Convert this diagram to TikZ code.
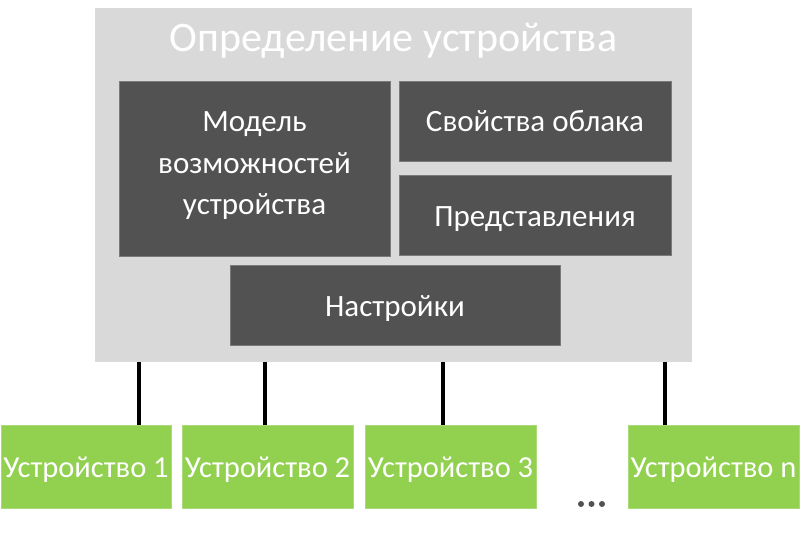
\documentclass[tikz,border=0pt]{standalone}
\usepackage{fontspec}
\setmainfont{Carlito}
\definecolor{bgGray}{HTML}{D9D9D9}
\definecolor{darkBox}{HTML}{525252}
\definecolor{darkEdge}{HTML}{7A7A7A}
\definecolor{greenBox}{HTML}{92D050}
\definecolor{greenEdge}{HTML}{A9DC78}
\begin{document}
\begin{tikzpicture}[x=1pt,y=-1pt,
  darkbox/.style={fill=darkBox,draw=darkEdge,line width=0.8pt},
  devbox/.style={fill=greenBox,draw=greenEdge,line width=0.8pt},
  darktext/.style={text=white,font=\fontsize{31}{41.5}\selectfont,inner sep=0pt},
  devtext/.style={text=white,font=\fontsize{30.5}{36}\selectfont,inner sep=0pt,anchor=base},
  link/.style={line width=4pt,black},
  dot/.style={circle,fill=darkBox,inner sep=0pt,minimum size=6pt}]
\useasboundingbox (0,0) rectangle (800,534);
\fill[white] (0,0) rectangle (800,534);
% outer
\fill[bgGray] (95,8) rectangle (692,362);
\node[text=white,font=\fontsize{42}{48}\selectfont,anchor=base,inner sep=0pt] (title) at (393.5,52) {Определение устройства};
% inner boxes
\draw[darkbox] (119,81) rectangle (390,256);
\draw[darkbox] (399,81) rectangle (671,161);
\draw[darkbox] (399,175) rectangle (671,255);
\draw[darkbox] (230,265) rectangle (560,345);
\node[darktext,align=center,anchor=base] (model) at (254.5,215) {Модель\\возможностей\\устройства};
\node[darktext,anchor=base] (cloud) at (535,132) {Свойства облака};
\node[darktext,anchor=base] (views) at (535,227) {Представления};
\node[darktext,anchor=base] (settings) at (395,317) {Настройки};
% device boxes
\draw[devbox] (1,425) rectangle (171,508);
\node[devtext] (d1) at (86,477) {Устройство 1};
\draw[devbox] (182,425) rectangle (353,508);
\node[devtext] (d2) at (267.5,477) {Устройство 2};
\draw[devbox] (365,425) rectangle (536,508);
\node[devtext] (d3) at (450.5,477) {Устройство 3};
\draw[devbox] (628,425) rectangle (799,508);
\node[devtext] (dn) at (713.5,477) {Устройство n};
% connectors
\coordinate (t1) at (139,362); \coordinate (b1) at (139,425);
\coordinate (t2) at (265,362); \coordinate (b2) at (265,425);
\coordinate (t3) at (443,362); \coordinate (b3) at (443,425);
\coordinate (t4) at (665,362); \coordinate (b4) at (665,425);
\draw[link] (t1) -- (b1);
\draw[link] (t2) -- (b2);
\draw[link] (t3) -- (b3);
\draw[link] (t4) -- (b4);
% dots
\node[dot] (e1) at (581,504) {};
\node[dot] (e2) at (591.5,504) {};
\node[dot] (e3) at (602,504) {};
\end{tikzpicture}
\end{document}
